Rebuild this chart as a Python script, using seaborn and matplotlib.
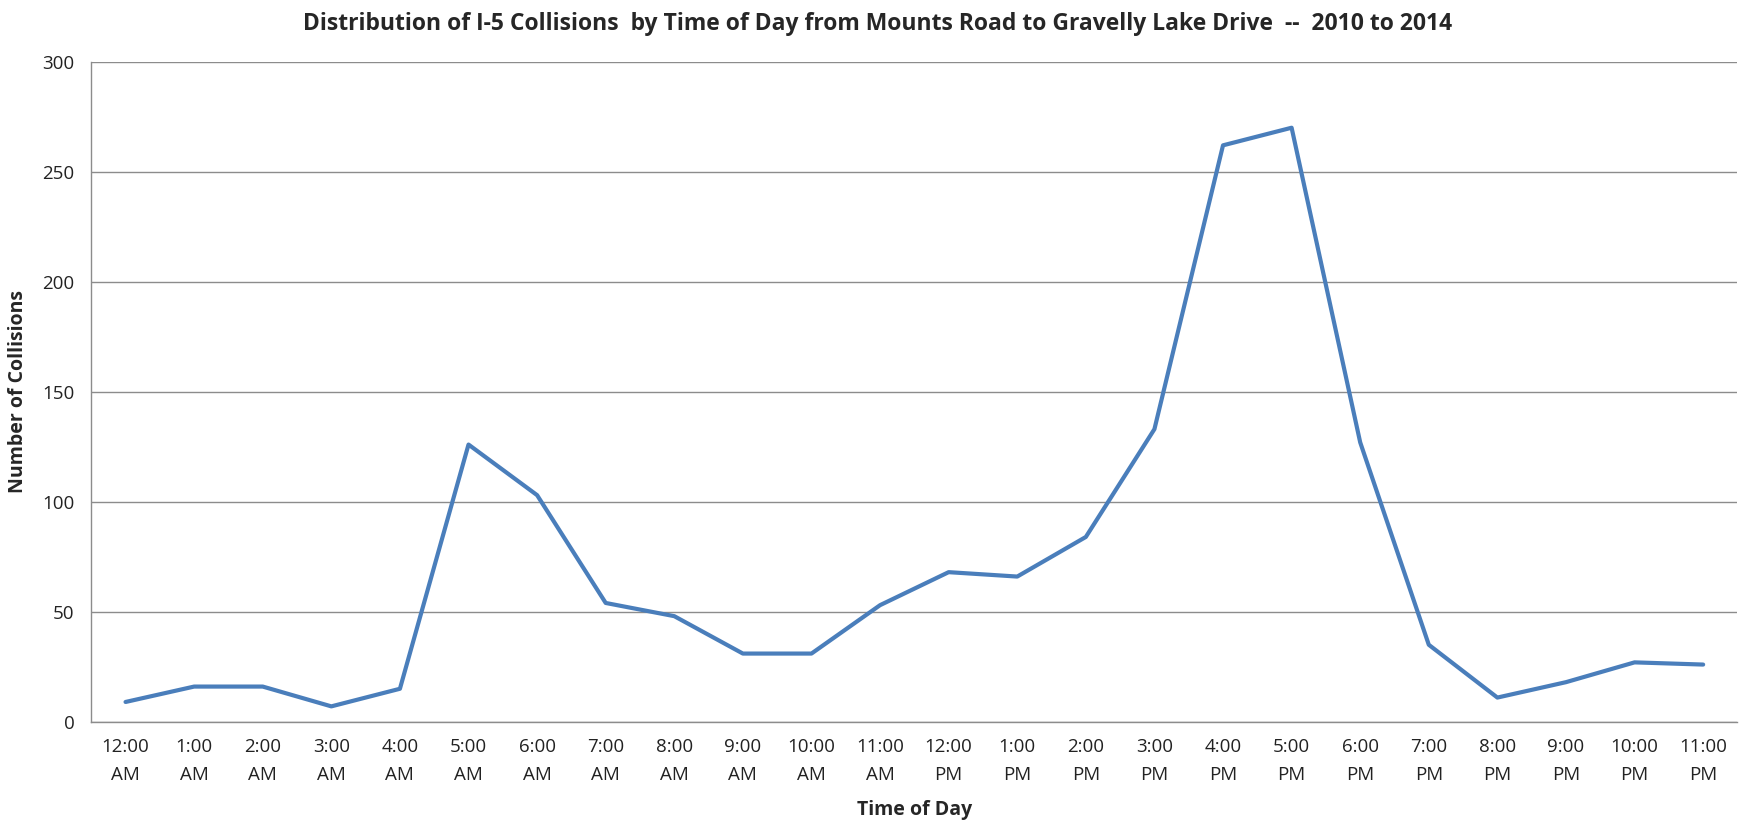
import numpy as np
import pandas as pd
import matplotlib
matplotlib.use("Agg")
import matplotlib.pyplot as plt
import seaborn as sns

# Dati
hours = ["12:00\nAM", "1:00\nAM", "2:00\nAM", "3:00\nAM", "4:00\nAM", "5:00\nAM",
         "6:00\nAM", "7:00\nAM", "8:00\nAM", "9:00\nAM", "10:00\nAM", "11:00\nAM",
         "12:00\nPM", "1:00\nPM", "2:00\nPM", "3:00\nPM", "4:00\nPM", "5:00\nPM",
         "6:00\nPM", "7:00\nPM", "8:00\nPM", "9:00\nPM", "10:00\nPM", "11:00\nPM"]
collisions = [9, 16, 16, 7, 15, 126, 103, 54, 48, 31, 31, 53,
              68, 66, 84, 133, 262, 270, 127, 35, 11, 18, 27, 26]
y_ticks = [0, 50, 100, 150, 200, 250, 300]

df = pd.DataFrame({"pos": np.arange(len(hours)), "collisions": collisions})

sns.set_style("white")
plt.rcParams['font.family'] = ['Open Sans', 'DejaVu Sans']

fig, ax = plt.subplots(figsize=(17.55, 8.23), dpi=100)
fig.subplots_adjust(left=0.052, right=0.99, top=0.925, bottom=0.123)

sns.lineplot(data=df, x="pos", y="collisions", ax=ax, color="#4a7ebb",
             linewidth=3.0, sort=False)

ax.set_xlim(-0.5, len(hours) - 0.5)
ax.set_ylim(0, 300)
ax.set_yticks(y_ticks)
ax.yaxis.grid(True, color="#8c8c8c", linewidth=1.0)
ax.set_axisbelow(True)

# etichette al centro, tacche tra le categorie (stile Excel)
ax.set_xticks(np.arange(len(hours)))
ax.set_xticklabels(hours, fontsize=13.5, color="#222222", linespacing=1.65)
ax.set_xticks(np.arange(len(hours) + 1) - 0.5, minor=True)
ax.tick_params(axis="x", which="major", length=0, pad=12)
ax.tick_params(axis="x", which="minor", length=6, color="#8c8c8c", width=1, direction="out")
ax.tick_params(axis="y", length=6, color="#8c8c8c", width=1, direction="out",
               labelsize=13.5, labelcolor="#222222", pad=6)

for side in ["top", "right"]:
    ax.spines[side].set_visible(False)
for side in ["left", "bottom"]:
    ax.spines[side].set_color("#8c8c8c")
    ax.spines[side].set_linewidth(1.0)

ax.set_xlabel("Time of Day", fontsize=14, fontweight="bold", labelpad=12)
ax.set_ylabel("Number of Collisions", fontsize=14, fontweight="bold", labelpad=10)
fig.suptitle("Distribution of I-5 Collisions  by Time of Day from Mounts Road to Gravelly Lake Drive  --  2010 to 2014",
             fontsize=16.5, fontweight="bold", y=0.985)

plt.savefig("out.png", dpi=100)
